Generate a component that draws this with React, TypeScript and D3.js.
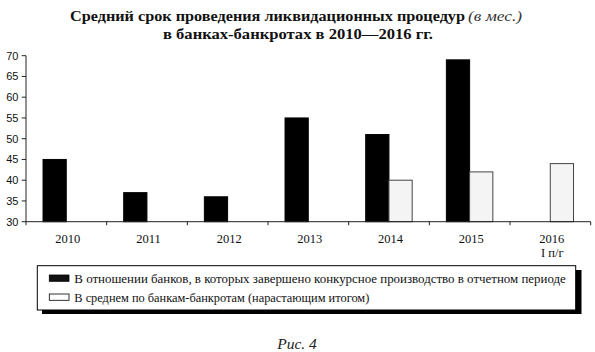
import React from "react";
import * as d3 from "d3";

const categories = ["2010", "2011", "2012", "2013", "2014", "2015", "2016"];
const seriesKeys = ["completed", "average"];
const completedValues: (number | null)[] = [45, 37, 36, 55, 51, 69, null];
const averageValues: (number | null)[] = [null, null, null, null, 40, 42, 44];
const yTicks = [30, 35, 40, 45, 50, 55, 60, 65, 70];
const legendLabels = [
  "В отношении банков, в которых завершено конкурсное производство в отчетном периоде",
  "В среднем по банкам-банкротам (нарастающим итогом)",
];
const titleLine1 = "Средний срок проведения ликвидационных процедур";
const titleUnit = "(в мес.)";
const titleLine2 = "в банках-банкротах в 2010—2016 гг.";
const subLabel2016 = "I п/г";
const caption = "Рис. 4";

const W = 595;
const H = 352;
const SERIF = "'Liberation Serif', 'Times New Roman', serif";
const SANS = "'Liberation Sans', Arial, sans-serif";

export default function App() {
  const x0 = d3.scaleBand<string>().domain(categories).range([26, 590.7]).paddingInner(0).paddingOuter(0);
  const bw = x0.bandwidth();
  const x1 = d3.scaleBand<string>().domain(seriesKeys).range([bw * 0.211, bw * 0.787]).paddingInner(0);
  const y = d3.scaleLinear().domain([30, 70]).range([221.7, 55.7]);

  const boundaries = [...categories.map((c) => x0(c)!), x0.range()[1]];

  const bars: { key: string; cat: string; v: number }[] = [];
  categories.forEach((c, i) => {
    if (completedValues[i] != null) bars.push({ key: "completed", cat: c, v: completedValues[i]! });
    if (averageValues[i] != null) bars.push({ key: "average", cat: c, v: averageValues[i]! });
  });

  return (
    <svg width={W} height={H} style={{ position: "absolute", left: 0, top: 0, background: "#fff" }}>
      <rect x={0} y={0} width={W} height={H} fill="#fff" />
      {/* Title */}
      <text x={70} y={21} fontFamily={SERIF} fontWeight="bold" fontSize={15.5} fill="#111"
        textLength={395} lengthAdjust="spacingAndGlyphs">{titleLine1}</text>
      <text x={468} y={21} fontFamily={SERIF} fontStyle="italic" fontSize={15} fill="#333"
        textLength={54} lengthAdjust="spacingAndGlyphs">{titleUnit}</text>
      <text x={163} y={38.5} fontFamily={SERIF} fontWeight="bold" fontSize={15.5} fill="#111"
        textLength={270} lengthAdjust="spacingAndGlyphs">{titleLine2}</text>

      {/* Bars */}
      {bars.map((b, i) => (
        <rect key={i}
          x={x0(b.cat)! + x1(b.key)!}
          y={y(b.v)}
          width={x1.bandwidth()}
          height={y(30) - y(b.v)}
          fill={b.key === "completed" ? "#000" : "#f4f4f4"}
          stroke={b.key === "completed" ? "#000" : "#444"}
          strokeWidth={1}
        />
      ))}

      {/* Y axis */}
      <line x1={26} x2={26} y1={y(70)} y2={y(30)} stroke="#222" strokeWidth={1} />
      {yTicks.map((t) => (
        <g key={t}>
          <line x1={21.7} x2={26} y1={y(t)} y2={y(t)} stroke="#222" strokeWidth={1} />
          <text x={18.5} y={y(t) + 4} textAnchor="end" fontFamily={SANS} fontSize={11} fill="#111">{t}</text>
        </g>
      ))}

      {/* X axis */}
      <line x1={26} x2={x0.range()[1]} y1={y(30)} y2={y(30)} stroke="#222" strokeWidth={1} />
      {boundaries.map((bx, i) => (
        <line key={i} x1={bx} x2={bx} y1={y(30)} y2={y(30) + 3.5} stroke="#222" strokeWidth={1} />
      ))}
      {categories.map((c) => (
        <text key={c} x={x0(c)! + bw / 2 + 1.5} y={242.7} textAnchor="middle" fontFamily={SERIF}
          fontSize={12.5} fill="#111">{c}</text>
      ))}
      <text x={x0("2016")! + bw / 2 + 2} y={256.5} textAnchor="middle" fontFamily={SERIF}
        fontSize={12.5} fill="#111">{subLabel2016}</text>

      {/* Legend */}
      <rect x={42} y={270} width={539.5} height={44} fill="#000" />
      <rect x={37.3} y={265.7} width={538.4} height={44.3} fill="#fff" stroke="#000" strokeWidth={1} />
      <rect x={49.3} y={275} width={19.7} height={6.3} fill="#111" stroke="#000" strokeWidth={0.8} />
      <rect x={49.3} y={294} width={19.7} height={6.3} fill="#fff" stroke="#000" strokeWidth={0.8} />
      <text x={74.3} y={283} fontFamily={SERIF} fontSize={12} fill="#111"
        textLength={491.5} lengthAdjust="spacingAndGlyphs">{legendLabels[0]}</text>
      <text x={74.3} y={301.5} fontFamily={SERIF} fontSize={12} fill="#111"
        textLength={295} lengthAdjust="spacingAndGlyphs">{legendLabels[1]}</text>

      {/* Caption */}
      <text x={297} y={349} textAnchor="middle" fontFamily={SERIF} fontStyle="italic" fontSize={15.5}
        fill="#222">{caption}</text>
    </svg>
  );
}
